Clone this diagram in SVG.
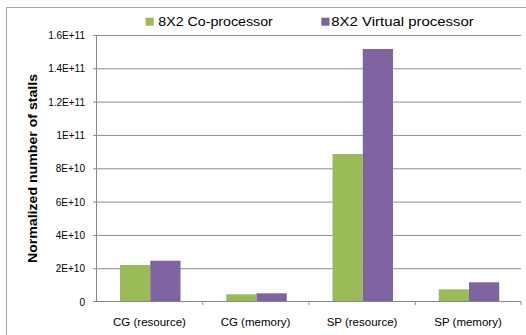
<svg xmlns="http://www.w3.org/2000/svg" width="526" height="335" viewBox="0 0 526 335">
<style>
.grid{stroke:#8c8c8c;stroke-width:1;fill:none}
.axis{stroke:#868686;stroke-width:1;fill:none}
.g{fill:#9BBB59}
.p{fill:#8064A2}
.tick{font-family:"Liberation Sans",Arial,sans-serif;font-size:10px;fill:#000;text-anchor:end}
.cat{font-family:"Liberation Sans",Arial,sans-serif;font-size:11.5px;fill:#000;text-anchor:middle}
.leg{font-family:"Liberation Sans",Arial,sans-serif;font-size:13.5px;fill:#000}
.title{font-family:"Liberation Sans",Arial,sans-serif;font-size:13px;font-weight:bold;fill:#000;text-anchor:middle}
</style>
<rect width="526" height="335" fill="#fff"/>
<g id="frame">
<path d="M6.5,335 V7.5 H526" stroke="#a6a6a6" stroke-width="1" fill="none"/>
</g>
<g id="gridlines">
<path class="grid" d="M93,35.5 H521 M93,68.8 H521 M93,102.1 H521 M93,135.4 H521 M93,168.8 H521 M93,202.1 H521 M93,235.4 H521 M93,268.7 H521"/>
</g>
<g id="bars">
<rect class="g" x="120" y="265" width="30.25" height="36.5"/>
<rect class="p" x="150.25" y="260.7" width="30.25" height="40.8"/>
<rect class="g" x="226.25" y="294.3" width="30.25" height="7.2"/>
<rect class="p" x="256.5" y="293.3" width="30.25" height="8.2"/>
<rect class="g" x="332.5" y="154" width="30.25" height="147.5"/>
<rect class="p" x="362.75" y="49" width="30.25" height="252.5"/>
<rect class="g" x="438.75" y="289.3" width="30.25" height="12.2"/>
<rect class="p" x="469" y="282.3" width="30.25" height="19.2"/>
</g>
<g id="axes">
<path class="axis" d="M96.5,35 V302 M93,301.5 H521"/>
<path class="axis" d="M202.75,301.5 V305 M309,301.5 V305 M415.25,301.5 V305 M521,301.5 V305"/>
</g>
<g id="y-labels">
<text class="tick" x="85" y="39">1.6E+11</text>
<text class="tick" x="85" y="72.3">1.4E+11</text>
<text class="tick" x="85" y="105.6">1.2E+11</text>
<text class="tick" x="85" y="138.9">1E+11</text>
<text class="tick" x="85" y="172.3">8E+10</text>
<text class="tick" x="85" y="205.6">6E+10</text>
<text class="tick" x="85" y="238.9">4E+10</text>
<text class="tick" x="85" y="272.2">2E+10</text>
<text class="tick" x="85" y="305.5">0</text>
</g>
<g id="x-labels">
<text class="cat" x="149.5" y="326">CG (resource)</text>
<text class="cat" x="255.5" y="326">CG (memory)</text>
<text class="cat" x="362" y="326">SP (resource)</text>
<text class="cat" x="468" y="326">SP (memory)</text>
</g>
<g id="y-title">
<text class="title" transform="translate(36.5,168.5) rotate(-90)" textLength="189" lengthAdjust="spacingAndGlyphs">Normalized number of stalls</text>
</g>
<g id="legend">
<rect class="g" x="145.5" y="17.7" width="8.2" height="8"/>
<text class="leg" x="158.3" y="25.8" textLength="114.5" lengthAdjust="spacingAndGlyphs">8X2 Co-processor</text>
<rect class="p" x="321.3" y="17.7" width="8.2" height="8"/>
<text class="leg" x="331.3" y="25.8" textLength="142.5" lengthAdjust="spacingAndGlyphs">8X2 Virtual processor</text>
</g>
</svg>
